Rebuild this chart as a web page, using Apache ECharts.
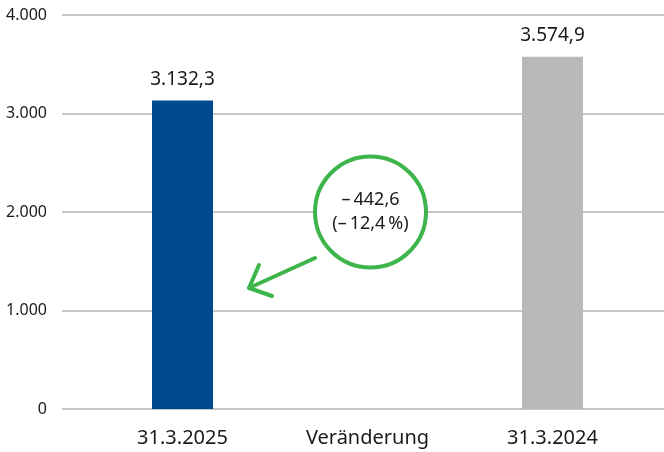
<!DOCTYPE html>
<html>
<head>
<meta charset="utf-8">
<script src="https://cdn.jsdelivr.net/npm/echarts@6/dist/echarts.min.js"></script>
<style>
  html, body { margin: 0; padding: 0; background: #fff; }
  #main { width: 664px; height: 452px; }
</style>
</head>
<body>
<div id="main"></div>
<script>
// Daten
var categories = ["31.3.2025", "Veränderung", "31.3.2024"];
var barValues = [3132.3, null, 3574.9];
var yTicks = [0, 1000, 2000, 3000, 4000];

var FONT = "Noto Sans";
var GREEN = "#3db54a";

// deutsche Zahlenformatierung
function fmt(v, dec) {
  var s = Math.abs(v).toFixed(dec);
  var parts = s.split(".");
  var int = parts[0].replace(/\B(?=(\d{3})+(?!\d))/g, ".");
  return (v < 0 ? "\u2013\u2009" : "") + int + (parts[1] ? "," + parts[1] : "");
}

var diff = barValues[0] - barValues[2];
var pct = diff / barValues[2] * 100;

var myChart = echarts.init(document.getElementById("main"));

var option = {
  animation: false,
  textStyle: { fontFamily: FONT },
  grid: [
    { left: 62, right: 0, top: 15, bottom: 43 },
    { left: 90, right: 19, top: 15, bottom: 43 }
  ],
  xAxis: [
    { gridIndex: 0, type: "category", data: categories, show: false },
    {
      gridIndex: 1,
      type: "category",
      data: categories,
      axisLine: { show: false },
      axisTick: { show: false },
      axisLabel: { color: "#1a1a1a", fontSize: 20, lineHeight: 22, margin: 18, fontFamily: FONT }
    }
  ],
  yAxis: [
    {
      gridIndex: 0,
      type: "value",
      min: yTicks[0],
      max: yTicks[yTicks.length - 1],
      interval: 1000,
      axisLine: { show: false },
      axisTick: { show: false },
      splitLine: { lineStyle: { color: "#b3b3b3", width: 1.5 } },
      axisLabel: {
        color: "#1a1a1a",
        fontSize: 16,
        margin: 15,
        fontFamily: FONT,
        formatter: function (v) { return fmt(v, 0); }
      }
    },
    { gridIndex: 1, type: "value", min: 0, max: 4000, show: false }
  ],
  series: [
    {
      type: "bar",
      xAxisIndex: 1,
      yAxisIndex: 1,
      barWidth: 61,
      data: barValues.map(function (v, i) {
        return {
          value: v,
          itemStyle: { color: i === 0 ? "#004a8d" : "#b8b9bb" }
        };
      }),
      label: {
        show: true,
        position: "top",
        distance: 10,
        color: "#1a1a1a",
        fontSize: 19,
        lineHeight: 22,
        fontFamily: FONT,
        formatter: function (p) { return p.value == null ? "" : fmt(p.value, 1); }
      },
      z: 3
    },
    {
      type: "scatter",
      xAxisIndex: 1,
      yAxisIndex: 1,
      symbol: "circle",
      symbolSize: 111,
      symbolOffset: [3, 0],
      data: [["Veränderung", 2000]],
      itemStyle: { color: "#fff", borderColor: GREEN, borderWidth: 4, opacity: 1 },
      label: {
        show: true,
        position: "inside",
        color: "#1a1a1a",
        fontSize: 18,
        lineHeight: 24,
        fontFamily: FONT,
        formatter: function () {
          return fmt(diff, 1) + "\n(" + fmt(pct, 1) + "\u2009%)";
        }
      },
      emphasis: { disabled: true },
      z: 4
    }
  ],
  graphic: [
    {
      type: "polyline",
      shape: { points: [[315, 258], [249, 288]] },
      style: { stroke: GREEN, lineWidth: 4, lineCap: "round", fill: null },
      z: 10
    },
    {
      type: "polyline",
      shape: { points: [[259, 265], [249, 288], [272, 296]] },
      style: { stroke: GREEN, lineWidth: 4, lineCap: "round", lineJoin: "round", fill: null },
      z: 10
    }
  ]
};

myChart.setOption(option);
</script>
</body>
</html>
